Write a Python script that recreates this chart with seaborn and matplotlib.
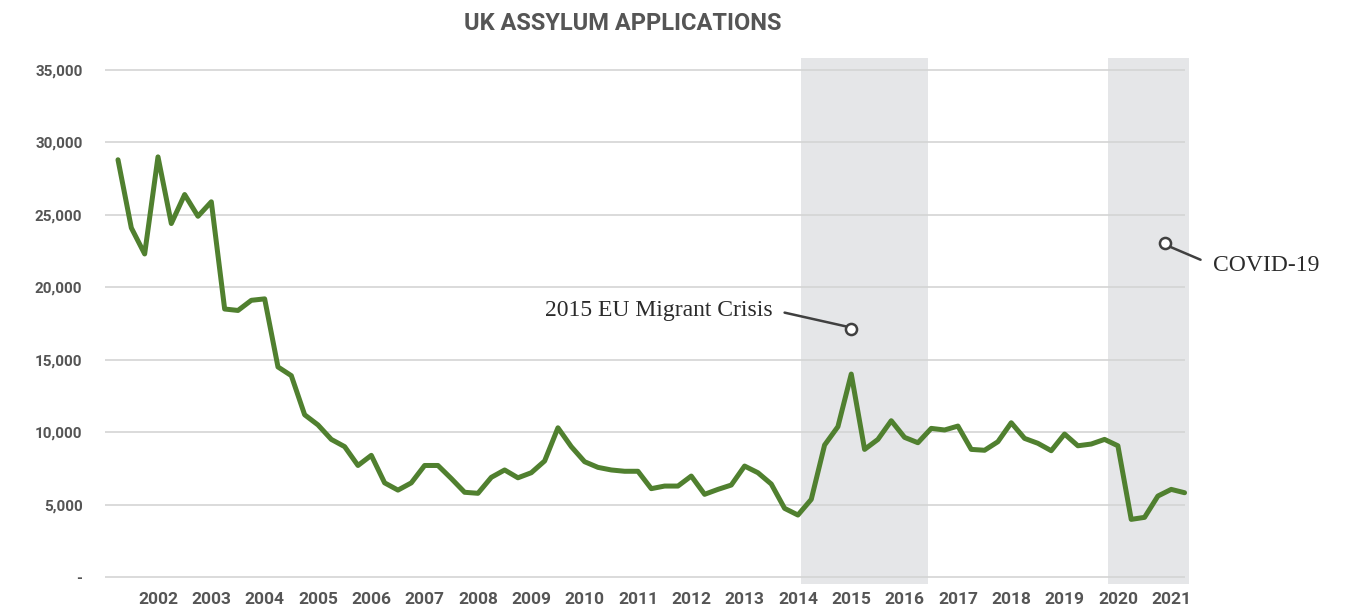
import matplotlib
matplotlib.use("Agg")
import matplotlib.pyplot as plt
import numpy as np
import pandas as pd
import seaborn as sns

# quarterly applications
valores = [
    28800, 24100, 22300, 29000, 24400, 26400, 24900, 25900,
    18500, 18400, 19100, 19200, 14500, 13900, 11200, 10500,
    9500, 9000, 7700, 8400, 6500, 6000, 6500, 7700,
    7700, 6800, 5850, 5780, 6880, 7390, 6850, 7200,
    8010, 10300, 9000, 7960, 7570, 7390, 7300, 7300,
    6100, 6280, 6280, 6970, 5710, 6050, 6350, 7660,
    7200, 6420, 4740, 4280, 5360, 9110, 10380, 14010,
    8810, 9500, 10790, 9640, 9270, 10260, 10150, 10420,
    8810, 8750, 9340, 10650, 9570, 9230, 8720, 9870,
    9060, 9180, 9500, 9060, 3980, 4120, 5590, 6050, 5820,
]
anios = [str(a) for a in range(2002, 2022)]
y_ticks = [0, 5000, 10000, 15000, 20000, 25000, 30000, 35000]
y_labels = ["-", "5,000", "10,000", "15,000", "20,000", "25,000", "30,000", "35,000"]

df = pd.DataFrame({"trimestre": np.arange(len(valores)), "solicitudes": valores})

fuente_cond = ["Roboto", "DejaVu Sans"]
fuente_serif = ["Liberation Serif", "DejaVu Serif"]

sns.set_theme(style="white")
fig = plt.figure(figsize=(13.54, 6.11), dpi=100)
ax = fig.add_axes([0.0773, 0.0442, 0.8009, 0.861])

# bandas sombreadas
ax.axvspan(51.24, 60.77, color="#e5e6e8", lw=0, zorder=0)
ax.axvspan(74.27, 80.34, color="#e5e6e8", lw=0, zorder=0)

ax.hlines(y_ticks, -1, 80, colors="#d4d4d4", lw=1.2, zorder=1)

sns.lineplot(data=df, x="trimestre", y="solicitudes", ax=ax, color="#50802f",
             lw=3.6, zorder=3)

ax.set_xlim(-1, 80.34)
ax.set_ylim(-480, 35830)
for s in ax.spines.values():
    s.set_visible(False)

ax.set_xticks([3 + 4 * i for i in range(len(anios))])
ax.set_xticklabels(anios)
ax.set_yticks(y_ticks)
ax.set_yticklabels(y_labels)
ax.tick_params(axis="x", length=0, pad=6, labelsize=12.5, labelcolor="#555555")
ax.tick_params(axis="y", length=0, pad=16, labelsize=11, labelcolor="#555555")
for lab in ax.get_xticklabels() + ax.get_yticklabels():
    lab.set_family(fuente_cond)
    lab.set_fontweight("bold")
ax.set_xlabel("")
ax.set_ylabel("")

# anotaciones
ax.plot([55], [17120], marker="o", ms=8, mfc="white", mec="#404040", mew=1.8, zorder=5)
ax.plot([50.0, 54.6], [18250, 17300], color="#404040", lw=1.8, zorder=4)
ax.text(49.1, 18400, "2015 EU Migrant Crisis", ha="right", va="center",
        fontsize=17, family=fuente_serif, color="#2b2b2b")

ax.plot([78.5], [23060], marker="o", ms=8, mfc="white", mec="#404040", mew=1.8,
        zorder=5, clip_on=False)
ax.plot([78.9, 81.2], [22800, 21900], color="#404040", lw=1.8, zorder=4, clip_on=False)
ax.text(82.1, 21500, "COVID-19", ha="left", va="center",
        fontsize=17, family=fuente_serif, color="#2b2b2b")

fig.text(0.46, 0.962, "UK ASSYLUM APPLICATIONS", ha="center", va="center",
         fontsize=17, fontweight="bold", family=fuente_cond, color="#555555")

fig.savefig("out.png", dpi=100)
